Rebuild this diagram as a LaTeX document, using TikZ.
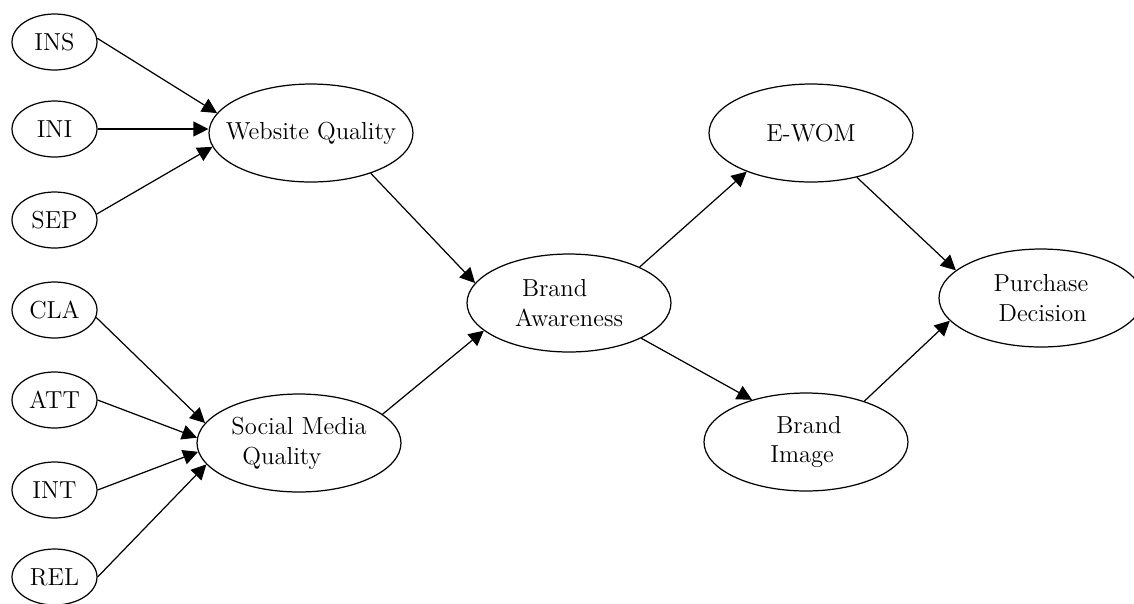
\documentclass[tikz,border=0pt]{standalone}
\usepackage{tikz}
\usetikzlibrary{arrows.meta,shapes.geometric}

\begin{document}
\begin{tikzpicture}[x=0.02cm,y=-0.02cm,
  font=\fontsize{14}{17}\selectfont,
  small/.style={draw,ellipse,line width=0.7pt,minimum width=1.7cm,minimum height=1.12cm,inner sep=0pt},
  big/.style={draw,ellipse,line width=0.7pt,minimum width=4.08cm,minimum height=1.96cm,inner sep=0pt},
  arr/.style={-{Triangle[length=3mm,width=3mm]},line width=0.7pt}]
\useasboundingbox (0,0) rectangle (1134,603);
% indicators
\foreach \n/\y in {INS/42,INI/129,SEP/220,CLA/310,ATT/400,INT/490,REL/577}
  \node[small] (\n) at (54.5,\y) {\n};
% constructs
\node[big,label={center:Website Quality}] (wq) at (311,133) {};
\node[big,label={[align=left]center:Social Media\\\hspace{0.22cm}Quality}] (smq) at (299,443) {};
\node[big,label={[align=left]center:\hspace{0.14cm}Brand\\Awareness}] (ba) at (569,303) {};
\node[big,label={center:E-WOM}] (ewom) at (811,133) {};
\node[big,label={[align=left]center:\hspace{0.12cm}Brand\\Image}] (bi) at (806,442) {};
\node[big,label={[align=left]center:Purchase\\\hspace{0.1cm}Decision}] (pd) at (1041,298) {};

\draw[arr] (INS.5) -- (wq.168);
\draw[arr] (INI.east) -- (INI.east -| wq.west);
\draw[arr] (SEP.8) -- (wq.188);
\draw[arr] (CLA.350) -- (smq.168);
\draw[arr] (ATT.east) -- (smq.177);
\draw[arr] (INT.east) -- (smq.185);
\draw[arr] (REL.east) -- (smq.193);

\draw[arr] (wq.326) -- (ba.168);
\draw[arr] (smq.19) -- (ba.198);
\draw[arr] (ba.27) -- (ewom.211);
\draw[arr] (ba.334) -- (bi.142);
\draw[arr] (ewom.316) -- (pd.162);
\draw[arr] (bi.35) -- (pd.194);
\end{tikzpicture}
\end{document}
